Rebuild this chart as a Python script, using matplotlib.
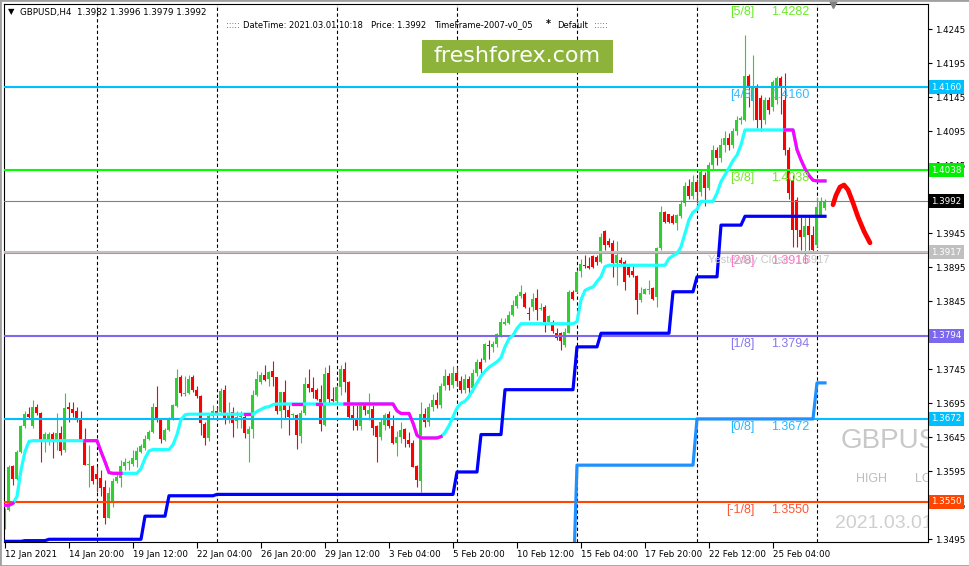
import matplotlib
matplotlib.use("Agg")
import matplotlib.pyplot as plt
import matplotlib.transforms as mtrans
from matplotlib.patches import Rectangle
import numpy as np

W, H = 970, 566

# GBPUSD H4 bars, 12 Jan 2021 04:00 .. 1 Mar 2021 08:00  (open, high, low, close)
ohlc = [
    (1.3514, 1.3541, 1.3510, 1.3538), (1.3538, 1.3604, 1.3536, 1.3602), (1.3603, 1.3604, 1.3575, 1.3583),
    (1.3583, 1.3626, 1.3582, 1.3624), (1.3624, 1.3663, 1.3622, 1.3662), (1.3662, 1.3683, 1.3658, 1.3679),
    (1.3679, 1.3690, 1.3673, 1.3675), (1.3661, 1.3700, 1.3658, 1.3690), (1.3689, 1.3694, 1.3678, 1.3681),
    (1.3681, 1.3682, 1.3609, 1.3639), (1.3639, 1.3653, 1.3624, 1.3650), (1.3640, 1.3653, 1.3634, 1.3650),
    (1.3650, 1.3653, 1.3614, 1.3641), (1.3639, 1.3680, 1.3626, 1.3652), (1.3652, 1.3661, 1.3619, 1.3625),
    (1.3626, 1.3710, 1.3624, 1.3688), (1.3689, 1.3697, 1.3668, 1.3686), (1.3686, 1.3697, 1.3675, 1.3681),
    (1.3684, 1.3690, 1.3668, 1.3674), (1.3674, 1.3683, 1.3639, 1.3640), (1.3640, 1.3658, 1.3604, 1.3604),
    (1.3604, 1.3634, 1.3572, 1.3605), (1.3603, 1.3604, 1.3577, 1.3580), (1.3591, 1.3603, 1.3565, 1.3583),
    (1.3585, 1.3597, 1.3558, 1.3570), (1.3572, 1.3582, 1.3518, 1.3527), (1.3527, 1.3572, 1.3526, 1.3563),
    (1.3548, 1.3585, 1.3543, 1.3581), (1.3581, 1.3592, 1.3578, 1.3586), (1.3585, 1.3612, 1.3572, 1.3603),
    (1.3603, 1.3614, 1.3597, 1.3609), (1.3607, 1.3612, 1.3597, 1.3608), (1.3606, 1.3626, 1.3603, 1.3614),
    (1.3612, 1.3631, 1.3602, 1.3625), (1.3624, 1.3635, 1.3622, 1.3632), (1.3629, 1.3648, 1.3626, 1.3642),
    (1.3642, 1.3656, 1.3641, 1.3653), (1.3653, 1.3696, 1.3651, 1.3690), (1.3690, 1.3720, 1.3668, 1.3671),
    (1.3671, 1.3673, 1.3636, 1.3642), (1.3641, 1.3658, 1.3639, 1.3656), (1.3656, 1.3675, 1.3654, 1.3673),
    (1.3671, 1.3694, 1.3670, 1.3692), (1.3691, 1.3745, 1.3690, 1.3732), (1.3734, 1.3737, 1.3705, 1.3710),
    (1.3709, 1.3735, 1.3705, 1.3710), (1.3710, 1.3737, 1.3708, 1.3730), (1.3733, 1.3737, 1.3712, 1.3715),
    (1.3715, 1.3720, 1.3703, 1.3705), (1.3705, 1.3707, 1.3648, 1.3666), (1.3665, 1.3668, 1.3634, 1.3644),
    (1.3644, 1.3680, 1.3639, 1.3676), (1.3676, 1.3693, 1.3673, 1.3683), (1.3684, 1.3690, 1.3670, 1.3678),
    (1.3682, 1.3717, 1.3678, 1.3713), (1.3715, 1.3722, 1.3664, 1.3673), (1.3670, 1.3697, 1.3666, 1.3680),
    (1.3682, 1.3689, 1.3646, 1.3666), (1.3669, 1.3683, 1.3659, 1.3675), (1.3675, 1.3683, 1.3659, 1.3676),
    (1.3675, 1.3678, 1.3644, 1.3652), (1.3650, 1.3661, 1.3608, 1.3657), (1.3657, 1.3715, 1.3644, 1.3707),
    (1.3707, 1.3743, 1.3705, 1.3731), (1.3727, 1.3741, 1.3724, 1.3737), (1.3736, 1.3751, 1.3728, 1.3729),
    (1.3731, 1.3743, 1.3721, 1.3741), (1.3743, 1.3757, 1.3720, 1.3733), (1.3733, 1.3733, 1.3679, 1.3683),
    (1.3683, 1.3712, 1.3658, 1.3711), (1.3711, 1.3729, 1.3673, 1.3685), (1.3685, 1.3693, 1.3648, 1.3675),
    (1.3678, 1.3680, 1.3674, 1.3679), (1.3678, 1.3679, 1.3628, 1.3648), (1.3647, 1.3685, 1.3636, 1.3680),
    (1.3680, 1.3733, 1.3678, 1.3724), (1.3724, 1.3745, 1.3711, 1.3718), (1.3718, 1.3733, 1.3703, 1.3712),
    (1.3715, 1.3718, 1.3700, 1.3702), (1.3702, 1.3722, 1.3654, 1.3665), (1.3663, 1.3749, 1.3662, 1.3738),
    (1.3739, 1.3751, 1.3695, 1.3702), (1.3702, 1.3719, 1.3697, 1.3698), (1.3698, 1.3722, 1.3697, 1.3719),
    (1.3719, 1.3752, 1.3707, 1.3745), (1.3746, 1.3756, 1.3712, 1.3727), (1.3727, 1.3728, 1.3672, 1.3675),
    (1.3678, 1.3693, 1.3655, 1.3670), (1.3673, 1.3693, 1.3655, 1.3661), (1.3662, 1.3697, 1.3655, 1.3693),
    (1.3693, 1.3697, 1.3678, 1.3685), (1.3679, 1.3710, 1.3670, 1.3685), (1.3687, 1.3693, 1.3648, 1.3659),
    (1.3662, 1.3663, 1.3609, 1.3646), (1.3645, 1.3673, 1.3641, 1.3668), (1.3663, 1.3680, 1.3656, 1.3678),
    (1.3679, 1.3683, 1.3658, 1.3661), (1.3661, 1.3678, 1.3635, 1.3636), (1.3636, 1.3654, 1.3618, 1.3646),
    (1.3646, 1.3668, 1.3636, 1.3656), (1.3657, 1.3658, 1.3630, 1.3643), (1.3641, 1.3653, 1.3631, 1.3635),
    (1.3636, 1.3641, 1.3602, 1.3602), (1.3603, 1.3604, 1.3572, 1.3582), (1.3581, 1.3697, 1.3565, 1.3679),
    (1.3679, 1.3688, 1.3660, 1.3668), (1.3668, 1.3695, 1.3662, 1.3690), (1.3690, 1.3708, 1.3683, 1.3700),
    (1.3700, 1.3712, 1.3688, 1.3692), (1.3692, 1.3725, 1.3688, 1.3720), (1.3720, 1.3745, 1.3715, 1.3735),
    (1.3735, 1.3740, 1.3715, 1.3722), (1.3722, 1.3750, 1.3718, 1.3740), (1.3740, 1.3748, 1.3720, 1.3728),
    (1.3728, 1.3735, 1.3710, 1.3715), (1.3715, 1.3738, 1.3710, 1.3730), (1.3730, 1.3735, 1.3705, 1.3718),
    (1.3718, 1.3745, 1.3712, 1.3740), (1.3740, 1.3760, 1.3735, 1.3755), (1.3755, 1.3762, 1.3740, 1.3745),
    (1.3759, 1.3783, 1.3755, 1.3782), (1.3781, 1.3788, 1.3760, 1.3779), (1.3778, 1.3786, 1.3771, 1.3782),
    (1.3782, 1.3798, 1.3778, 1.3797), (1.3796, 1.3820, 1.3793, 1.3815), (1.3812, 1.3820, 1.3810, 1.3815),
    (1.3813, 1.3830, 1.3812, 1.3825), (1.3825, 1.3847, 1.3823, 1.3840), (1.3838, 1.3856, 1.3835, 1.3853),
    (1.3853, 1.3869, 1.3850, 1.3858), (1.3856, 1.3859, 1.3835, 1.3837), (1.3828, 1.3837, 1.3818, 1.3827),
    (1.3837, 1.3857, 1.3830, 1.3849), (1.3850, 1.3863, 1.3817, 1.3832), (1.3834, 1.3842, 1.3832, 1.3835),
    (1.3836, 1.3840, 1.3800, 1.3814), (1.3815, 1.3825, 1.3814, 1.3823), (1.3814, 1.3817, 1.3799, 1.3802),
    (1.3798, 1.3805, 1.3788, 1.3791), (1.3798, 1.3800, 1.3774, 1.3786), (1.3780, 1.3805, 1.3778, 1.3800),
    (1.3799, 1.3861, 1.3798, 1.3859), (1.3858, 1.3861, 1.3847, 1.3848), (1.3858, 1.3891, 1.3857, 1.3888),
    (1.3889, 1.3907, 1.3881, 1.3900), (1.3898, 1.3913, 1.3894, 1.3897), (1.3897, 1.3910, 1.3892, 1.3894),
    (1.3911, 1.3913, 1.3894, 1.3896), (1.3910, 1.3913, 1.3898, 1.3903), (1.3903, 1.3945, 1.3901, 1.3940),
    (1.3949, 1.3950, 1.3920, 1.3928), (1.3933, 1.3938, 1.3925, 1.3928), (1.3930, 1.3935, 1.3881, 1.3901),
    (1.3901, 1.3933, 1.3869, 1.3913), (1.3906, 1.3910, 1.3898, 1.3901), (1.3903, 1.3906, 1.3861, 1.3874),
    (1.3896, 1.3897, 1.3880, 1.3884), (1.3889, 1.3898, 1.3881, 1.3884), (1.3882, 1.3884, 1.3827, 1.3847),
    (1.3847, 1.3866, 1.3844, 1.3857), (1.3856, 1.3864, 1.3855, 1.3863), (1.3862, 1.3876, 1.3855, 1.3863),
    (1.3864, 1.3866, 1.3847, 1.3849), (1.3851, 1.3925, 1.3837, 1.3923), (1.3923, 1.3985, 1.3920, 1.3977),
    (1.3977, 1.3978, 1.3960, 1.3961), (1.3973, 1.3974, 1.3960, 1.3961), (1.3970, 1.3973, 1.3958, 1.3960),
    (1.3960, 1.3974, 1.3950, 1.3972), (1.3970, 1.3994, 1.3967, 1.3988), (1.3990, 1.4020, 1.3985, 1.4015),
    (1.4015, 1.4025, 1.3995, 1.4000), (1.4000, 1.4030, 1.3995, 1.4020), (1.4020, 1.4025, 1.3990, 1.4005),
    (1.4005, 1.4040, 1.4000, 1.4035), (1.4031, 1.4035, 1.3985, 1.4012), (1.4012, 1.4050, 1.4008, 1.4045),
    (1.4045, 1.4075, 1.4040, 1.4068), (1.4068, 1.4072, 1.4045, 1.4055), (1.4055, 1.4085, 1.4050, 1.4075),
    (1.4075, 1.4095, 1.4065, 1.4085), (1.4085, 1.4092, 1.4068, 1.4075), (1.4075, 1.4100, 1.4070, 1.4095),
    (1.4095, 1.4118, 1.4090, 1.4112), (1.4112, 1.4118, 1.4105, 1.4114), (1.4112, 1.4237, 1.4110, 1.4176),
    (1.4176, 1.4179, 1.4130, 1.4161), (1.4140, 1.4207, 1.4112, 1.4160), (1.4162, 1.4165, 1.4100, 1.4112),
    (1.4144, 1.4148, 1.4095, 1.4112), (1.4112, 1.4145, 1.4105, 1.4141), (1.4141, 1.4145, 1.4120, 1.4126),
    (1.4131, 1.4170, 1.4125, 1.4168), (1.4141, 1.4176, 1.4135, 1.4173), (1.4173, 1.4176, 1.4120, 1.4161),
    (1.4141, 1.4181, 1.4060, 1.4068), (1.4068, 1.4072, 1.3995, 1.4004), (1.4023, 1.4030, 1.3925, 1.3950),
    (1.3994, 1.3998, 1.3925, 1.3950), (1.3950, 1.3969, 1.3921, 1.3940), (1.3940, 1.3969, 1.3901, 1.3956),
    (1.3956, 1.3969, 1.3921, 1.3943), (1.3943, 1.3956, 1.3918, 1.3921), (1.3928, 1.3999, 1.3925, 1.3983),
    (1.3972, 1.3999, 1.3969, 1.3991), (1.3982, 1.3996, 1.3979, 1.3992),
]

# trend line of the indicator (cyan = up, magenta = down)
trail = ([1.3545, 1.3545, 1.3548, 1.3558, 1.3597, 1.3624, 1.3639] + [1.3640] * 17
         + [1.3624, 1.3609, 1.3593] + [1.3592] * 7 + [1.3599, 1.3614, 1.3625] + [1.3627] * 5
         + [1.3634, 1.3649, 1.3671, 1.3678] + [1.3679] * 17 + [1.3683, 1.3686, 1.3689, 1.3690, 1.3693]
         + [1.3694] * 30 + [1.3684] + [1.3680] * 3 + [1.3666, 1.3648] + [1.3644] * 5
         + [1.3646, 1.3652, 1.3662, 1.3675, 1.3688, 1.3695, 1.3698, 1.3705, 1.3715, 1.3725,
            1.3735, 1.3742, 1.3748, 1.3752, 1.3756, 1.3762, 1.3778, 1.3790, 1.3795, 1.3805]
         + [1.3812] * 14 + [1.3815, 1.3847, 1.3861, 1.3864, 1.3866, 1.3874, 1.3881, 1.3896]
         + [1.3898] * 15 + [1.3908, 1.3912, 1.3915, 1.3925, 1.3945, 1.3965, 1.3976, 1.3980]
         + [1.3992] * 4 + [1.4004, 1.4021, 1.4031, 1.4041, 1.4052, 1.4060, 1.4075]
         + [1.4097] * 13 + [1.4068, 1.4053, 1.4040, 1.4030, 1.4023] + [1.4022] * 3)
trail_down = [(0, 2), (20, 29), (60, 61), (72, 74), (78, 79), (85, 109), (195, 205)]

# daily stepped support (blue)
support = ([1.3492] * 5 + [1.3493] * 6 + [1.3495] * 24 + [1.3529] * 6 + [1.3559] * 12
           + [1.3561] * 60 + [1.3594] * 6 + [1.3649] * 6 + [1.3715] * 18 + [1.3778] * 6
           + [1.3798] * 18 + [1.3859] * 6 + [1.3881] * 6 + [1.3957] * 6 + [1.3970] * 21)

# weekly stepped line (dodger blue), starts at bar 142
weekly_start = 142
weekly = [1.3420] + [1.3604] * 30 + [1.3672] * 30 + [1.3725] * 3

# projected path (red arc)
proj_x = [207.0, 207.75, 208.75, 209.75, 210.75, 212.0, 213.25, 214.75, 216.25]
proj_y = [1.3987, 1.4001, 1.4013, 1.4016, 1.4009, 1.3990, 1.3969, 1.3948, 1.3931]

# Murrey math levels
mm_names = ["[5/8]", "[4/8]", "[3/8]", "[2/8]", "[1/8]", "[0/8]", "[-1/8]"]
mm_values = [1.4282, 1.4160, 1.4038, 1.3916, 1.3794, 1.3672, 1.3550]
mm_line_col = [None, "#00BFFF", "#00FF00", "#FF69B4", "#7B68EE", "#00BFFF", "#FF4500"]
mm_text_col = ["#66EE22", "#33BBFF", "#77E62A", "#FF77C8", "#8877EE", "#22BBFF", "#FF5533"]

yest_close = 1.3917
last_price = 1.3992

yticks = [1.4245, 1.4195, 1.4145, 1.4095, 1.4045, 1.3995, 1.3945, 1.3895,
          1.3845, 1.3795, 1.3745, 1.3695, 1.3645, 1.3595, 1.3545, 1.3495]
ytick_hidden = [1.3995, 1.3795]   # fully covered by price tags
xtick_labels = ["12 Jan 2021", "14 Jan 20:00", "19 Jan 12:00", "22 Jan 04:00", "26 Jan 20:00",
                "29 Jan 12:00", "3 Feb 04:00", "5 Feb 20:00", "10 Feb 12:00", "15 Feb 04:00",
                "17 Feb 20:00", "22 Feb 12:00", "25 Feb 04:00"]
week_starts = [23, 53, 83, 113, 143, 173, 203]

tags = [1.4160, 1.4038, 1.3992, 1.3917, 1.3794, 1.3672, 1.3550]
tag_col = ["#00BFFF", "#00EE00", "#000000", "#C0C0C0", "#7B68EE", "#00BFFF", "#FF4500"]


def fx(x):
    return x / W


def fy(y):
    return 1 - y / H


fig = plt.figure(figsize=(W / 100, H / 100), dpi=100)
fig.patch.set_facecolor("white")
ax = fig.add_axes([fx(4), fy(542), 924 / W, 538 / H])
ax.set_xlim(-0.25, 230.75)
ax.set_ylim(1.34910, 1.42822)

# candles
arr = np.array(ohlc)
o, h, l, c = arr[:, 0], arr[:, 1], arr[:, 2], arr[:, 3]
idx = np.arange(len(ohlc))
col = np.where(c >= o, "#32CD32", "#FF0000")
ax.vlines(idx, l, h, colors=col, lw=0.8, zorder=2)
ax.bar(idx, np.maximum(np.abs(c - o), 0.00012), bottom=np.minimum(o, c), width=0.75,
       color=col, linewidth=0, zorder=2)

# separators
for b in week_starts:
    ax.axvline(b, color="black", lw=0.8, ls=(0, (3, 2.2)), zorder=1)

# horizontal levels
for name, v, lc in zip(mm_names, mm_values, mm_line_col):
    if lc is None:
        continue
    if name == "[2/8]":
        ax.axhline(v - 0.00005, color=lc, lw=0.8, zorder=3)
    else:
        ax.axhline(v, color=lc, lw=1.5, zorder=3)
ax.axhline(yest_close, color="#C0C0C0", lw=1.5, zorder=3)
ax.axhline(last_price, color="#808080", lw=0.8, zorder=3)

# indicator lines
trail = np.array(trail)
ax.plot(idx, trail, color="#22FFFF", lw=2.3, zorder=4)
for a, b in trail_down:
    ax.plot(idx[a:b + 1], trail[a:b + 1], color="#FF00FF", lw=2.3, zorder=5)
ax.plot(idx, support, color="#0000FF", lw=2.3, zorder=4)
ax.plot(np.arange(weekly_start, weekly_start + len(weekly)), weekly, color="#1E90FF", lw=2.3, zorder=4)
ax.plot(proj_x, proj_y, color="#FF0000", lw=3.4, zorder=5, solid_capstyle="round")

# level captions below each line
below = mtrans.offset_copy(ax.transData, fig=fig, x=0, y=-8, units="dots")
for name, v, tc in zip(mm_names, mm_values, mm_text_col):
    ax.text(187.4, v, name, transform=below, ha="right", va="center", color=tc,
            fontsize=9, family="Liberation Sans", zorder=6)
    ax.text(191.5, v, f"{v:.4f}", transform=below, ha="left", va="center", color=tc,
            fontsize=9, family="Liberation Sans", zorder=6)
ax.text(175.8, yest_close, "Yesterday Close: 1.3917", transform=below, ha="left", va="center",
        color="#C8C8C8", fontsize=8, family="Liberation Sans", zorder=5)

# big grey info texts on the right, clipped by the chart frame
ax.text(208.9, 1.3640, "GBPUSD", fontsize=20, color="#C8C8C8", family="Liberation Sans",
        va="center", ha="left", clip_on=True, zorder=6)
ax.text(212.7, 1.3550 + 0.0033, "HIGH", fontsize=9, color="#BDBDBD", family="Liberation Sans",
        va="center", ha="left", clip_on=True, zorder=6)
ax.text(227.5, 1.3550 + 0.0033, "LOW", fontsize=9, color="#BDBDBD", family="Liberation Sans",
        va="center", ha="left", clip_on=True, zorder=6)
ax.text(207.5, 1.3518, "2021.03.01 10:18", fontsize=14, color="#CFCFCF", family="Liberation Sans",
        va="center", ha="left", clip_on=True, zorder=6)

# axes styling
for s in ax.spines.values():
    s.set_color("black")
    s.set_linewidth(0.8)
ax.yaxis.tick_right()
ax.set_yticks(yticks)
ax.set_yticklabels(["" if v in ytick_hidden else f"{v:.4f}" for v in yticks])
ax.tick_params(axis="y", length=3, width=0.8, pad=2, labelsize=6.3, colors="black")
ax.set_xticks(np.arange(len(xtick_labels)) * 16)
ax.set_xticklabels(xtick_labels, ha="left")
ax.tick_params(axis="x", length=4, width=0.8, pad=2, labelsize=6.3)

# price tags on the right scale
for v, bg in zip(tags, tag_col):
    ax.text(1.0035, v, f"{v:.4f}", transform=ax.get_yaxis_transform(), ha="left", va="center",
            color="white", fontsize=6.3, zorder=10, clip_on=False,
            bbox=dict(boxstyle="square,pad=0.3", fc=bg, ec="none"))

# shift marker on top
ax.plot([207], [1.42822], marker="v", markersize=6, color="#808080", clip_on=False, zorder=10)

# header texts
fig.text(fx(8), fy(12), "\u25bc", fontsize=6, va="center", ha="left", color="black")
fig.text(fx(20), fy(12), "GBPUSD,H4  1.3982 1.3996 1.3979 1.3992", fontsize=6.3, va="center", ha="left")
fig.text(fx(226), fy(25), ":::::", fontsize=6.0, va="center", ha="left", color="#800080")
fig.text(fx(243), fy(25), "DateTime: 2021.03.01 10:18", fontsize=6.0, va="center", ha="left")
fig.text(fx(371), fy(25), "Price: 1.3992", fontsize=6.0, va="center", ha="left")
fig.text(fx(434), fy(25), "TimeFrame-2007-v0_05", fontsize=6.0, va="center", ha="left")
fig.text(fx(546), fy(24), "*", fontsize=7, va="center", ha="left", weight="bold")
fig.text(fx(557), fy(25), "Default", fontsize=6.0, va="center", ha="left")
fig.text(fx(594), fy(25), ":::::", fontsize=6.0, va="center", ha="left", color="#800080")

# banner
fig.add_artist(Rectangle((fx(422), fy(73)), 191 / W, 33 / H, transform=fig.transFigure,
                         facecolor="#8DB33B", edgecolor="none", zorder=20))
fig.text(fx(517), fy(56), "freshforex.com", fontsize=16, color="white", ha="center", va="center",
         zorder=21)

# window border
fig.add_artist(Rectangle((0, 0), 1, 1, transform=fig.transFigure, fill=False,
                         edgecolor="#A0A0A0", lw=2, zorder=30))

fig.savefig("out.png", dpi=100)
